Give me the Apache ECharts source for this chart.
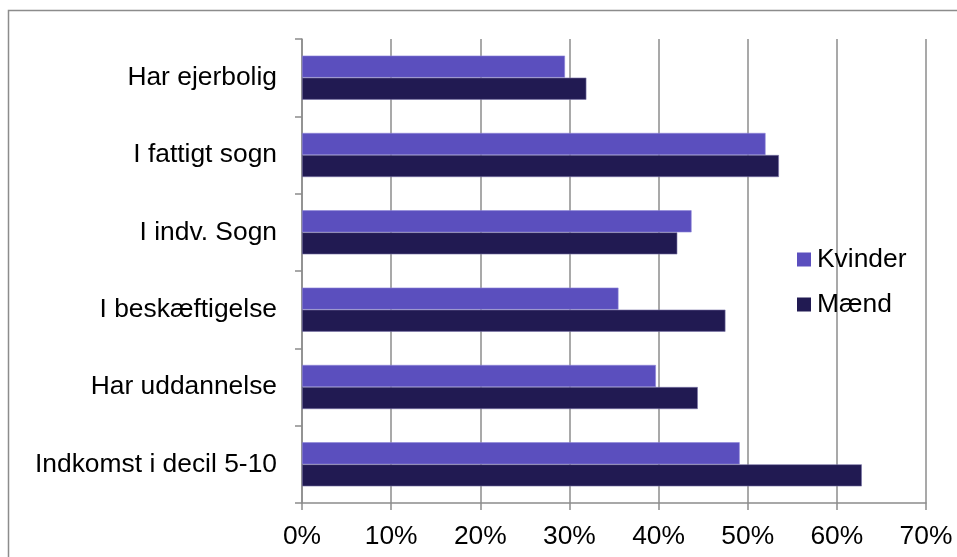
<!DOCTYPE html>
<html><head><meta charset="utf-8">
<script src="https://cdn.jsdelivr.net/npm/echarts@6/dist/echarts.min.js"></script>
<style>html,body{margin:0;padding:0;background:#fff}#c{width:957px;height:557px}</style>
</head><body><div id="c"></div>
<script>
const categories = ["Har ejerbolig","I fattigt sogn","I indv. Sogn","I beskæftigelse","Har uddannelse","Indkomst i decil 5-10"];
const kvinder = [29.5, 52.0, 43.7, 35.5, 39.7, 49.1];
const maend = [31.9, 53.5, 42.1, 47.5, 44.4, 62.8];
const seriesNames = ["Kvinder","Mænd"];
const xTicks = [0,10,20,30,40,50,60,70];

const chart = echarts.init(document.getElementById('c'), null, {renderer:'canvas'});
const font = '"Liberation Sans", Arial, sans-serif';
const fs = 26.4;
chart.setOption({
  animation:false,
  backgroundColor:'#fff',
  graphic:[{type:'rect', shape:{x:8.5,y:10.5,width:1000,height:1000}, style:{fill:'none',stroke:'#8c8c8c',lineWidth:1.5}, silent:true}],
  grid:{left:302,right:31,top:39,bottom:54},
  legend:{
    orient:'vertical', left:797, top:246.5, padding:0, itemWidth:14, itemHeight:14, itemGap:19,
    icon:'rect', data:seriesNames,
    itemStyle:{borderWidth:0},
    textStyle:{fontFamily:font,fontSize:fs,color:'#000',padding:[0,0,0,1]}
  },
  xAxis:{
    type:'value', min:xTicks[0], max:xTicks[xTicks.length-1], interval:10,
    axisLine:{show:true,lineStyle:{color:'#8c8c8c',width:1.5}},
    axisTick:{show:true,length:7,lineStyle:{color:'#8c8c8c',width:1.5}},
    splitLine:{show:true,lineStyle:{color:'#8c8c8c',width:1.5}},
    axisLabel:{formatter:'{value}%',fontFamily:font,fontSize:fs,color:'#000',margin:21}
  },
  yAxis:{
    type:'category', data:categories, inverse:true,
    axisLine:{show:true,lineStyle:{color:'#8c8c8c',width:1.5}},
    axisTick:{show:true,length:7,alignWithLabel:false,lineStyle:{color:'#8c8c8c',width:1.5}},
    axisLabel:{fontFamily:font,fontSize:fs,color:'#000',margin:25}
  },
  series:[
    {name:seriesNames[0],type:'bar',data:kvinder,barGap:'0%',barCategoryGap:'43%',
     itemStyle:{color:'#5b4fbe',borderColor:'#8d84d6',borderWidth:0.6}},
    {name:seriesNames[1],type:'bar',data:maend,barGap:'0%',barCategoryGap:'43%',
     itemStyle:{color:'#211a52',borderColor:'#7a74a8',borderWidth:0.6}}
  ]
});
</script></body></html>
